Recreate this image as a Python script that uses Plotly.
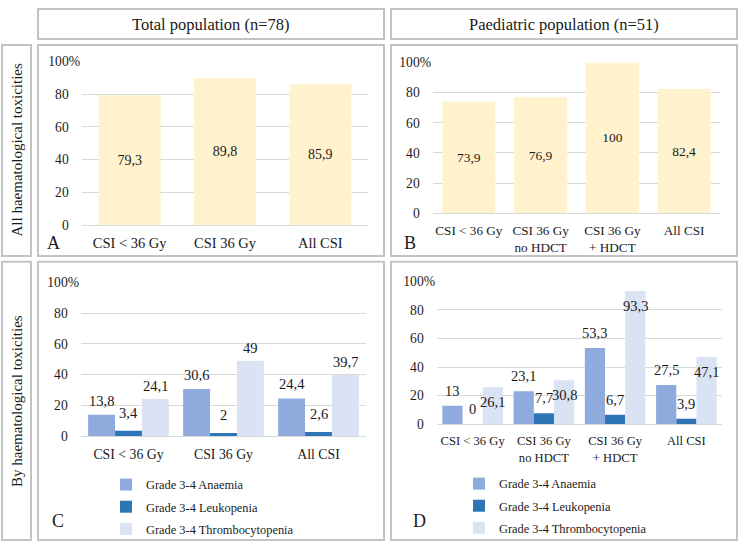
import plotly.graph_objects as go

# ---------------- data ----------------
cats_total = ["CSI &lt; 36 Gy", "CSI 36 Gy", "All CSI"]
cats_paed = ["CSI &lt; 36 Gy", "CSI 36 Gy<br>no HDCT", "CSI 36 Gy<br>+ HDCT", "All CSI"]

all_total = [79.3, 89.8, 85.9]
all_paed = [73.9, 76.9, 100, 82.4]

series_names = ["Grade 3-4 Anaemia", "Grade 3-4 Leukopenia", "Grade 3-4 Thrombocytopenia"]
anaemia_total = [13.8, 30.6, 24.4]
leuko_total = [3.4, 2, 2.6]
thrombo_total = [24.1, 49, 39.7]
anaemia_paed = [13, 23.1, 53.3, 27.5]
leuko_paed = [0, 7.7, 6.7, 3.9]
thrombo_paed = [26.1, 30.8, 93.3, 47.1]

y_ticks = [0, 20, 40, 60, 80, 100]

header_titles = ["Total population (n=78)", "Paediatric population (n=51)"]
row_titles = ["All haematological toxicities", "By haematological toxicities"]
panel_letters = ["A", "B", "C", "D"]

# ---------------- style ----------------
W, H = 738, 550
FONT = "Liberation Serif, Times New Roman, serif"
TXT = "#1a1a1a"
GRID = "#d9d9d9"
BORDER = "#c3c3c3"
CREAM = "#FFF2CC"
SER_COLORS = ["#8FAADC", "#2E75B6", "#DAE3F3"]
GROUP_W = 0.85


def fmt(v):
    return f"{v:g}".replace(".", ",")


def px_x(p):
    return p / W


def px_y(p):
    return 1 - p / H


fig = go.Figure()

# Panel A / B: single series with centred labels
fig.add_trace(go.Bar(
    x=list(range(len(all_total))), y=all_total, width=0.65,
    marker=dict(color=CREAM, line=dict(width=0)),
    text=[fmt(v) for v in all_total], textposition="inside",
    insidetextanchor="middle", textangle=0,
    textfont=dict(family=FONT, size=14, color=TXT),
    xaxis="x", yaxis="y", showlegend=False, hoverinfo="skip"))
fig.add_trace(go.Bar(
    x=list(range(len(all_paed))), y=all_paed, width=0.74,
    marker=dict(color=CREAM, line=dict(width=0)),
    text=[fmt(v) for v in all_paed], textposition="inside",
    insidetextanchor="middle", textangle=0,
    textfont=dict(family=FONT, size=13.5, color=TXT),
    xaxis="x2", yaxis="y2", showlegend=False, hoverinfo="skip"))

annotations = []

# Panel C / D: grouped series
label_shift = {
    "C": [14, 18, 13],
    "D": [15, 15, -15],
}
bw = GROUP_W / 3
for panel, ax, leg, series in [
    ("C", "3", "legend", [anaemia_total, leuko_total, thrombo_total]),
    ("D", "4", "legend2", [anaemia_paed, leuko_paed, thrombo_paed]),
]:
    for j, vals in enumerate(series):
        xs = list(range(len(vals)))
        fig.add_trace(go.Bar(
            x=xs, y=vals, width=bw, offset=(j - 1.5) * bw,
            name=series_names[j], legend=leg, legendgroup=panel + str(j),
            marker=dict(color=SER_COLORS[j], line=dict(width=0)),
            xaxis="x" + ax, yaxis="y" + ax, hoverinfo="skip"))
        for i, v in enumerate(vals):
            annotations.append(dict(
                x=i + (j - 1) * bw, y=v, xref="x" + ax, yref="y" + ax,
                text=fmt(v), showarrow=False, yanchor="middle",
                yshift=label_shift[panel][j],
                font=dict(family=FONT, size=14.5, color=TXT)))

# ---------------- axes ----------------
domains = {
    "": ([82, 368], [56, 224], cats_total, 14.5),
    "2": ([433, 720], [57, 212], cats_paed, 13.2),
    "3": ([81, 366], [283, 441], cats_total, 13.8),
    "4": ([437, 722], [282, 429], cats_paed, 12.6),
}
ytext = [f"{v}%" if v == 100 else f"{v}<span style='color:rgba(0,0,0,0)'>%</span>" for v in y_ticks]
layout_axes = {}
for k, (dx, dy, cats, fs) in domains.items():
    layout_axes["xaxis" + k] = dict(
        domain=[px_x(dx[0]), px_x(dx[1])], anchor="y" + k,
        range=[-0.5, len(cats) - 0.5], tickvals=list(range(len(cats))), ticktext=cats,
        showgrid=False, zeroline=False, showline=True, linecolor=GRID, linewidth=1,
        ticks="", ticklabelstandoff=5, fixedrange=True,
        tickfont=dict(family=FONT, size=fs, color=TXT))
    layout_axes["yaxis" + k] = dict(
        domain=[px_y(dy[1]), px_y(dy[0])], anchor="x" + k,
        range=[0, 100], tickvals=y_ticks, ticktext=ytext,
        showgrid=True, gridcolor=GRID, gridwidth=1, zeroline=False, showline=False,
        ticks="", ticklabelstandoff=1, fixedrange=True,
        tickfont=dict(family=FONT, size=13.6, color=TXT))

# ---------------- frame boxes ----------------
shapes = []


def box(x0, y0, x1, y1):
    shapes.append(dict(type="rect", xref="paper", yref="paper",
                       x0=px_x(x0), x1=px_x(x1), y0=px_y(y1), y1=px_y(y0),
                       line=dict(color=BORDER, width=2), fillcolor="rgba(0,0,0,0)",
                       layer="below"))


cols = [(38, 384), (391, 737)]
rows = [(39, 256), (262, 548)]
for (x0, x1) in cols:
    box(x0, 2, x1, 33)
    for (y0, y1) in rows:
        box(x0, y0, x1, y1)
for (y0, y1) in rows:
    box(2, y0, 31, y1)

for (x0, x1), t in zip(cols, header_titles):
    annotations.append(dict(x=px_x((x0 + x1) / 2), y=px_y(18), xref="paper", yref="paper",
                            text=t, showarrow=False, xanchor="center", yanchor="middle",
                            font=dict(family=FONT, size=16.5, color=TXT)))
for (y0, y1), t in zip(rows, row_titles):
    annotations.append(dict(x=px_x(17), y=px_y((y0 + y1) / 2), xref="paper", yref="paper",
                            text=t, showarrow=False, textangle=-90,
                            xanchor="center", yanchor="middle",
                            font=dict(family=FONT, size=15, color=TXT)))

letter_pos = [(53, 243), (410, 243), (58, 528), (419, 528)]
for (lx, ly), t in zip(letter_pos, panel_letters):
    annotations.append(dict(x=px_x(lx), y=px_y(ly), xref="paper", yref="paper",
                            text=t, showarrow=False, xanchor="center", yanchor="middle",
                            font=dict(family=FONT, size=18, color=TXT)))

legend_style = dict(font=dict(family=FONT, size=12.4, color=TXT), bgcolor="rgba(0,0,0,0)",
                    orientation="v", yanchor="top", xanchor="left", itemwidth=30,
                    tracegroupgap=3, itemclick=False, itemdoubleclick=False)

fig.update_layout(
    width=W, height=H, margin=dict(l=0, r=0, t=0, b=0),
    paper_bgcolor="white", plot_bgcolor="white",
    barmode="overlay",
    shapes=shapes, annotations=annotations,
    legend=dict(x=px_x(106), y=px_y(476), **legend_style),
    legend2=dict(x=px_x(459), y=px_y(475), **legend_style),
    **layout_axes,
)

fig.write_html("out.html")
